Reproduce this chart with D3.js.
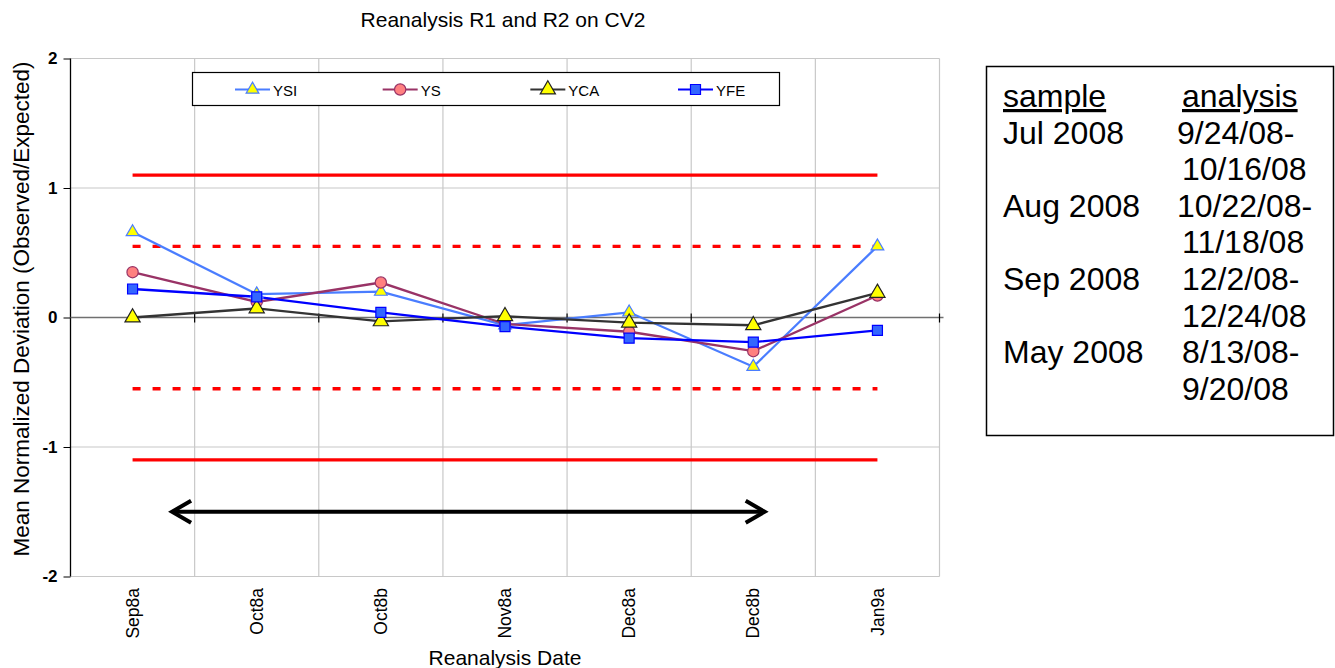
<!DOCTYPE html>
<html>
<head>
<meta charset="utf-8">
<script src="https://d3js.org/d3.v7.min.js"></script>
<style>
  body { margin: 0; background: #fff; }
  text { font-family: Arial, "Liberation Sans", Helvetica, sans-serif; fill: #000; }
</style>
</head>
<body>
<svg id="chart" width="1335" height="668"></svg>
<script>
// reanalysis dates (x categories)
var dates = ["Sep8a", "Oct8a", "Oct8b", "Nov8a", "Dec8a", "Dec8b", "Jan9a"];

// mean normalized deviation per series
var ysi = [0.66, 0.18, 0.20, -0.06, 0.04, -0.38, 0.55];
var ys  = [0.35, 0.12, 0.27, -0.05, -0.11, -0.26, 0.17];
var yca = [0.00, 0.07, -0.03, 0.01, -0.04, -0.06, 0.19];
var yfe = [0.22, 0.16, 0.04, -0.07, -0.16, -0.19, -0.10];

var seriesNames = ["YSI", "YS", "YCA", "YFE"];
var yTicks = [-2, -1, 0, 1, 2];

// control limits
var solidLimits = [1.1, -1.1];
var dashLimits = [0.55, -0.55];

// arrow span (category index) at y = -1.5
var arrowFrom = 0.31, arrowTo = 5.1, arrowY = -1.5;

// side table
var sampleHead = "sample", analysisHead = "analysis";
var sampleRows = ["Jul 2008", "", "Aug 2008", "", "Sep 2008", "", "May 2008", ""];
var analysisRows = ["9/24/08-", "10/16/08", "10/22/08-", "11/18/08", "12/2/08-", "12/24/08", "8/13/08-", "9/20/08"];

var series = [
  {name: "YSI", values: ysi, line: "#4A7DFF", fill: "#FFFF00", stroke: "#4A7DFF", sym: d3.symbolTriangle, size: 70},
  {name: "YS",  values: ys,  line: "#993366", fill: "#FF8080", stroke: "#993366", sym: d3.symbolCircle, size: 100},
  {name: "YCA", values: yca, line: "#333333", fill: "#FFFF00", stroke: "#222222", sym: d3.symbolTriangle, size: 100},
  {name: "YFE", values: yfe, line: "#0000FF", fill: "#3366FF", stroke: "#0000FF", sym: d3.symbolSquare, size: 100}
];

var svg = d3.select("#chart");
var pLeft = 70.5, pRight = 939.5, pTop = 58.5, pBottom = 576.5;

var xi = d3.scaleLinear().domain([0, dates.length]).range([pLeft, pRight]); // index -> px (boundaries)
var cx = function(i) { return xi(i + 0.5); };
var y = d3.scaleLinear().domain([-2, 2]).range([pBottom, pTop]);

// gridlines
var grid = svg.append("g");
grid.selectAll(".hg").data(yTicks.filter(function(d) { return d !== 0; }))
  .enter().append("line")
    .attr("x1", pLeft).attr("x2", pRight)
    .attr("y1", function(d) { return y(d); }).attr("y2", function(d) { return y(d); })
    .attr("stroke", "#c8c8c8").attr("stroke-width", 1.2);
grid.selectAll(".vg").data(d3.range(1, dates.length + 1))
  .enter().append("line")
    .attr("x1", function(d) { return xi(d); }).attr("x2", function(d) { return xi(d); })
    .attr("y1", pTop).attr("y2", pBottom)
    .attr("stroke", "#c8c8c8").attr("stroke-width", 1.2);

// y axis
var yAxis = svg.append("g")
  .attr("transform", "translate(" + pLeft + ",0)")
  .call(d3.axisLeft(y).tickValues(yTicks).tickSize(7).tickPadding(6)
        .tickFormat(function(d) { return String(d); }));
yAxis.select(".domain").attr("stroke", "#000").attr("stroke-width", 1.3).attr("d", "M0," + pTop + "V" + pBottom);
yAxis.selectAll(".tick line").attr("stroke", "#000");
yAxis.selectAll("text").attr("font-size", 17).style("font-size", "17px").style("font-weight", "bold")
  .style("font-family", "Arial, 'Liberation Sans', sans-serif").attr("fill", "#000");

// zero axis with crossing ticks at category boundaries
svg.append("line")
  .attr("x1", pLeft).attr("x2", pRight + 4)
  .attr("y1", y(0)).attr("y2", y(0))
  .attr("stroke", "#707070").attr("stroke-width", 1.6);
svg.selectAll(".zt").data(d3.range(1, dates.length + 1))
  .enter().append("line")
    .attr("x1", function(d) { return xi(d); }).attr("x2", function(d) { return xi(d); })
    .attr("y1", y(0) - 4).attr("y2", y(0) + 5)
    .attr("stroke", "#000").attr("stroke-width", 1.2);

// x tick labels (rotated)
svg.selectAll(".xl").data(dates)
  .enter().append("text")
    .attr("transform", function(d, i) { return "translate(" + cx(i) + ",588) rotate(-90)"; })
    .attr("dy", "0.35em")
    .attr("text-anchor", "end")
    .style("font-size", "17.5px")
    .text(function(d) { return d; });

// control limit lines
svg.selectAll(".sl").data(solidLimits)
  .enter().append("line")
    .attr("x1", cx(0)).attr("x2", cx(dates.length - 1))
    .attr("y1", function(d) { return y(d); }).attr("y2", function(d) { return y(d); })
    .attr("stroke", "#FF0000").attr("stroke-width", 3.3);
svg.selectAll(".dl").data(dashLimits)
  .enter().append("line")
    .attr("x1", cx(0)).attr("x2", cx(dates.length - 1))
    .attr("y1", function(d) { return y(d); }).attr("y2", function(d) { return y(d); })
    .attr("stroke", "#FF0000").attr("stroke-width", 3.3)
    .attr("stroke-dasharray", "8,12");

// series lines and markers
var line = d3.line().x(function(d, i) { return cx(i); }).y(function(d) { return y(d); });
series.forEach(function(s) {
  svg.append("path").datum(s.values)
    .attr("d", line).attr("fill", "none")
    .attr("stroke", s.line).attr("stroke-width", 2.3);
});
series.forEach(function(s) {
  svg.selectAll(null).data(s.values)
    .enter().append("path")
      .attr("transform", function(d, i) { return "translate(" + cx(i) + "," + y(d) + ")"; })
      .attr("d", d3.symbol().type(s.sym).size(s.size))
      .attr("fill", s.fill).attr("stroke", s.stroke).attr("stroke-width", 1.2);
});

// double-headed arrow
var ax1 = xi(arrowFrom + 0.5), ax2 = xi(arrowTo + 0.5), ay = y(arrowY);
var arrow = svg.append("g").attr("fill", "none").attr("stroke", "#000")
  .attr("stroke-width", 4).attr("stroke-linecap", "butt");
arrow.append("line").attr("x1", ax1 + 2).attr("x2", ax2 - 2).attr("y1", ay).attr("y2", ay);
arrow.append("path").attr("d", "M" + (ax1 + 20) + "," + (ay - 11) + "L" + (ax1 + 1) + "," + ay + "L" + (ax1 + 20) + "," + (ay + 11));
arrow.append("path").attr("d", "M" + (ax2 - 20) + "," + (ay - 11) + "L" + (ax2 - 1) + "," + ay + "L" + (ax2 - 20) + "," + (ay + 11));

// legend
var lg = svg.append("g");
lg.append("rect").attr("x", 192.5).attr("y", 72.5).attr("width", 587).attr("height", 33)
  .attr("fill", "#fff").attr("stroke", "#000").attr("stroke-width", 1.2);
var legX = d3.scalePoint().domain(seriesNames).range([235, 678]);
var li = lg.selectAll(".li").data(series).enter().append("g")
  .attr("transform", function(d) { return "translate(" + legX(d.name) + ",89.5)"; });
li.append("line").attr("x1", 0).attr("x2", 35).attr("y1", 0).attr("y2", 0)
  .attr("stroke", function(d) { return d.line; }).attr("stroke-width", 2.2);
li.append("path").attr("transform", "translate(17.5,0)")
  .attr("d", function(d) { return d3.symbol().type(d.sym).size(d.size)(); })
  .attr("fill", function(d) { return d.fill; }).attr("stroke", function(d) { return d.stroke; }).attr("stroke-width", 1.2);
li.append("text").attr("x", 38).attr("y", 6).style("font-size", "15px")
  .text(function(d) { return d.name; });

// titles
svg.append("text").attr("x", 503).attr("y", 27).attr("text-anchor", "middle")
  .style("font-size", "21px").text("Reanalysis R1 and R2 on CV2");
svg.append("text").attr("x", 505).attr("y", 665).attr("text-anchor", "middle")
  .style("font-size", "21px").text("Reanalysis Date");
svg.append("text").attr("transform", "translate(29,309) rotate(-90)").attr("text-anchor", "middle")
  .style("font-size", "22.5px").text("Mean Normalized Deviation (Observed/Expected)");

// side table box
var tb = svg.append("g");
tb.append("rect").attr("x", 986.5).attr("y", 66.5).attr("width", 347).attr("height", 369)
  .attr("fill", "#fff").attr("stroke", "#000").attr("stroke-width", 1.5);
var rowY = d3.scaleLinear().domain([0, 1]).range([107, 143.6]);
tb.append("text").attr("x", 1003).attr("y", rowY(0)).style("font-size", "32px")
  .style("text-decoration", "underline").text(sampleHead);
tb.append("text").attr("x", 1182).attr("y", rowY(0)).style("font-size", "32px")
  .style("text-decoration", "underline").text(analysisHead);
tb.selectAll(".sr").data(sampleRows).enter().append("text")
  .attr("x", 1003).attr("y", function(d, i) { return rowY(i + 1); })
  .style("font-size", "32px").text(function(d) { return d; });
tb.selectAll(".ar").data(analysisRows).enter().append("text")
  .attr("x", function(d) { return d.length === 9 || d === "9/24/08-" ? 1177 : 1182; })
  .attr("y", function(d, i) { return rowY(i + 1); })
  .style("font-size", "32px").text(function(d) { return d; });
</script>
</body>
</html>
